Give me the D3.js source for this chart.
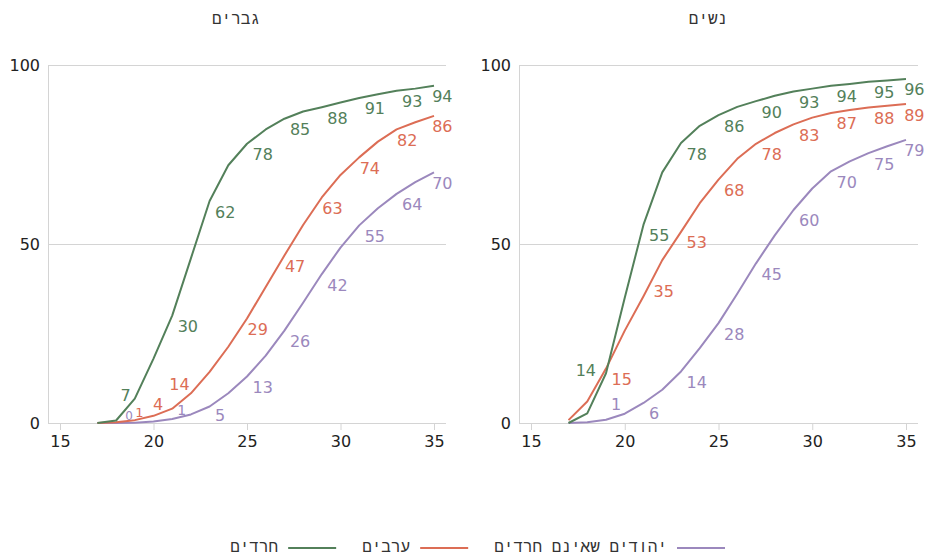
<!DOCTYPE html>
<html><head><meta charset="utf-8">
<script src="https://cdn.jsdelivr.net/npm/d3@7"></script>
<style>
html,body{margin:0;padding:0;background:#fff;}
svg{display:block;font-family:"DejaVu Sans",sans-serif;}
.heb{font-family:"Liberation Mono",monospace;}
</style></head>
<body>
<svg id="chart" width="930" height="556"></svg>
<script>
// ---------- data ----------
const ages = [17,18,19,20,21,22,23,24,25,26,27,28,29,30,31,32,33,34,35];
const labelAges = [19,21,23,25,27,29,31,33,35];
const xTicks = [15,20,25,30,35];
const yTicks = [0,50,100];
const panelTitles = ["גברים","נשים"];
const seriesKeys = ["jewish","arab","haredi"];
const seriesNames = ["יהודים שאינם חרדים","ערבים","חרדים"];

// men
const menHaredi = [0,0.7,6.8,18,30,46,62,72,78,82,85,87,88.2,89.5,90.8,91.8,92.8,93.4,94.2];
const menArab   = [0,0.2,0.8,2,4,8.3,14.3,21.3,29.2,38,46.8,55.3,63,69.3,74.2,78.6,82,84,85.8];
const menJewish = [0,0,0.1,0.4,1.1,2.4,4.6,8.3,13,18.8,25.8,33.6,41.6,49,55.2,60,64,67.3,70];
// women
const womenHaredi = [0,2.7,13.9,35,55.4,70,78.2,83,86,88.3,89.9,91.4,92.6,93.4,94.2,94.7,95.3,95.7,96.1];
const womenArab   = [0.8,6,15.2,25.8,35.4,45.5,53.4,61.4,68,73.8,78,81,83.4,85.3,86.6,87.4,88.1,88.6,89.1];
const womenJewish = [0,0.2,0.9,2.6,5.6,9.3,14.4,20.9,27.9,36.1,44.6,52.4,59.5,65.5,70.3,73.1,75.4,77.3,79.1];

// ---------- styling / layout ----------
const colors = {haredi:"#53805a", arab:"#dc6d55", jewish:"#9b88bd"};
const panels = [
  {title:panelTitles[0], left:48, right:446, titleX:236, series:{haredi:menHaredi, arab:menArab, jewish:menJewish}},
  {title:panelTitles[1], left:519, right:918, titleX:708, series:{haredi:womenHaredi, arab:womenArab, jewish:womenJewish}}
];
const plotTop = 65, plotBottom = 423, pad = 12;
const labelNudges = {
  "0-haredi-19": {anchor:"end", dx:-4, dy:2},
  "0-arab-19":   {dx:0.5, dy:-3.5, size:13},
  "0-jewish-19": {anchor:"end", dx:-2, dy:-3, size:12},
  "0-arab-21":   {anchor:"end", dx:-9, dy:1},
  "0-jewish-21": {dx:5, dy:-4, size:14},
  "0-arab-23":   {anchor:"end", dx:-20, dy:18},
  "0-jewish-23": {dy:14},
  "1-haredi-19": {anchor:"end", dx:-10, dy:3},
  "1-jewish-19": {dx:5, dy:-9.5},
  "1-arab-21":   {dx:10, dy:1}
};

const svg = d3.select("#chart");
const y = d3.scaleLinear().domain([0,100]).range([plotBottom, plotTop]);

panels.forEach((p, pi) => {
  const x = d3.scaleLinear().domain([15,35]).range([p.left + pad, p.right - pad]);
  const g = svg.append("g");

  g.append("text").attr("class","heb").attr("x", p.titleX).attr("y", 24).attr("text-anchor","middle")
    .attr("font-size", 16).attr("fill","#333").text(p.title);

  g.selectAll(".grid").data(yTicks).enter().append("line")
    .attr("x1", p.left).attr("x2", p.right)
    .attr("y1", d => y(d)).attr("y2", d => y(d))
    .attr("stroke", "#d4d4d4").attr("stroke-width", 1).attr("shape-rendering","crispEdges");
  g.append("line").attr("x1", p.left).attr("x2", p.left).attr("y1", plotTop).attr("y2", plotBottom)
    .attr("stroke", "#d4d4d4").attr("shape-rendering","crispEdges");

  g.selectAll(".yl").data(yTicks).enter().append("text")
    .attr("x", p.left - 8).attr("y", d => y(d)).attr("dy","0.36em")
    .attr("text-anchor","end").attr("font-size",16).attr("fill","#222").text(d => d);

  const xAxis = d3.axisBottom(x).tickValues(xTicks).tickSize(7).tickSizeOuter(0).tickPadding(6);
  const ax = g.append("g").attr("transform", `translate(0,${plotBottom})`).call(xAxis);
  ax.select(".domain").remove();
  ax.selectAll(".tick line").attr("stroke","#d4d4d4");
  ax.selectAll(".tick text").attr("font-size",16).attr("fill","#222").attr("font-family","DejaVu Sans");

  const line = d3.line().x((d,i) => x(ages[i])).y(d => y(d));
  seriesKeys.forEach(k => {
    g.append("path").datum(p.series[k]).attr("d", line)
      .attr("fill","none").attr("stroke", colors[k]).attr("stroke-width", 2)
      .attr("stroke-linejoin","round");
  });

  const maxX = x(35) + 18.5;
  seriesKeys.forEach(k => {
    labelAges.forEach(a => {
      const i = ages.indexOf(a);
      const v = p.series[k][i];
      const key = `${pi}-${k}-${a}`;
      const n = labelNudges[key] || {};
      const defDx = (pi === 0 && k === "arab") ? 0.5 : 5.5;
      const dx = n.dx !== undefined ? n.dx : defDx;
      const dy = n.dy !== undefined ? n.dy : 16.5;
      const t = g.append("text")
        .attr("font-size", n.size || 16).attr("fill", colors[k])
        .attr("text-anchor", n.anchor || "start")
        .attr("x", x(a) + dx).attr("y", y(v) + dy)
        .text(Math.round(v));
      if (!n.anchor) {
        const w = t.node().getComputedTextLength();
        if (x(a) + dx + w > maxX) t.attr("x", maxX - w);
      }
    });
  });
});

// legend (right-to-left)
const lg = svg.append("g");
let cx = 725;
const legendY = 548;
seriesKeys.forEach((k, i) => {
  lg.append("line").attr("x1", cx - 48).attr("x2", cx).attr("y1", legendY).attr("y2", legendY)
    .attr("stroke", colors[k]).attr("stroke-width", 2);
  const t = lg.append("text").attr("class","heb").attr("x", cx - 58).attr("y", 552)
    .attr("text-anchor","end").attr("font-size",16).attr("fill","#333").text(seriesNames[i]);
  const w = t.node().getComputedTextLength();
  cx = cx - 58 - w - 26;
});
</script>
</body></html>
